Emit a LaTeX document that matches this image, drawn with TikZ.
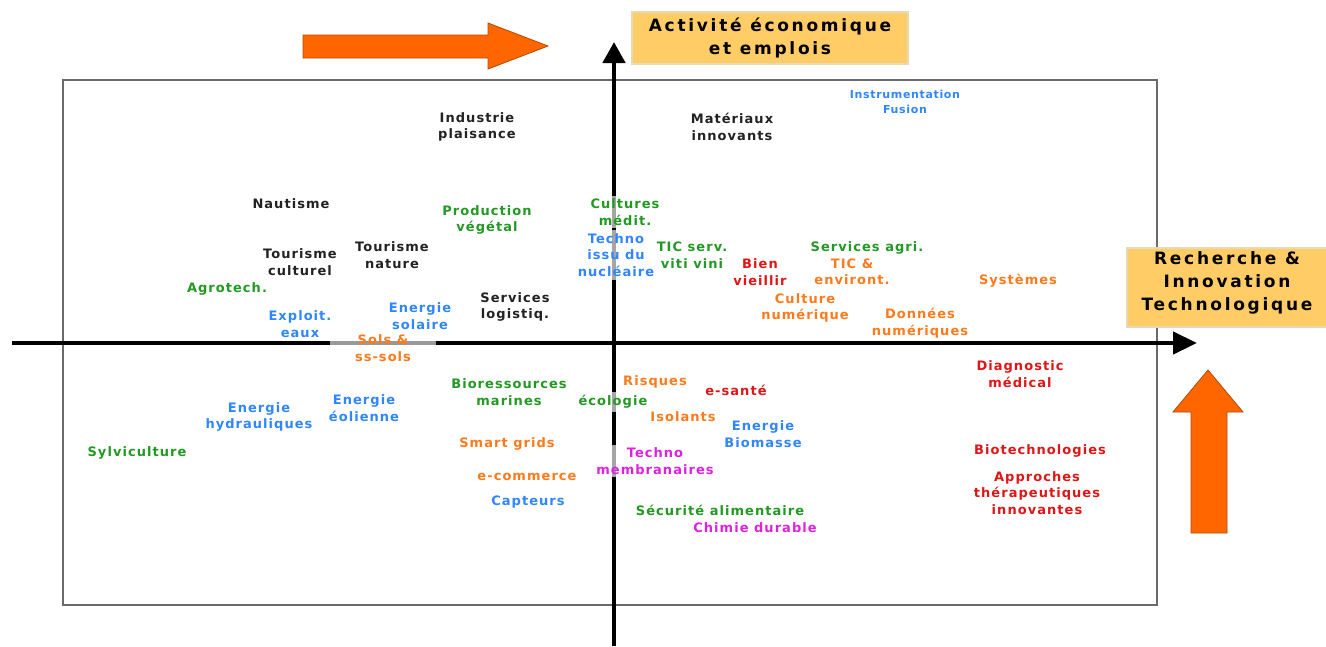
\documentclass[tikz,border=0pt]{standalone}
\usepackage{fontspec}
\usetikzlibrary{arrows.meta}
\newfontfamily\labfont[LetterSpace=8]{DejaVu Sans}
\newfontfamily\smallfont[LetterSpace=6]{DejaVu Sans}
\newfontfamily\headfont[LetterSpace=16]{DejaVu Sans}
\definecolor{cblue}{HTML}{2F86FF}
\definecolor{cgreen}{HTML}{229922}
\definecolor{cred}{HTML}{E01515}
\definecolor{corange}{HTML}{FF7A1A}
\definecolor{cmag}{HTML}{DD22DD}
\definecolor{cblack}{HTML}{222222}
\definecolor{boxfill}{HTML}{FFCC66}
\definecolor{boxline}{HTML}{E8D9B5}
\definecolor{arrfill}{HTML}{FF6600}
\definecolor{arrline}{HTML}{B04A00}
\definecolor{framegray}{HTML}{6A6A6A}
\tikzset{
  lab/.style={font=\labfont\bfseries\fontsize{13}{16.5}\selectfont, align=center, inner sep=1pt},
  lblack/.style={lab, text=cblack},
  lblue/.style={lab, text=cblue},
  lgreen/.style={lab, text=cgreen},
  lred/.style={lab, text=cred},
  lorange/.style={lab, text=corange},
  lmag/.style={lab, text=cmag},
  veil/.style={fill=white, fill opacity=0.65, text opacity=1, inner sep=3pt},
  head/.style={font=\headfont\bfseries\fontsize{17}{23}\selectfont, align=center, text=black},
  hbox/.style={fill=boxfill, draw=boxline, line width=2pt},
  blockarrow/.style={fill=arrfill, draw=arrline, line width=0.8pt},
  axis/.style={line width=4.5pt, black}
}
\begin{document}
\begin{tikzpicture}[x=1pt, y=-1pt]
\useasboundingbox (0,0) rectangle (1326,646);
% frame
\draw[framegray, line width=2pt] (63,80) rectangle (1157,605);
% axes
\coordinate (hx0) at (12,343);
\coordinate (hx1) at (1197,343);
\coordinate (vy0) at (614,646);
\coordinate (vy1) at (614,42);
\draw[axis, -{Triangle[length=24pt,width=22pt]}] (hx0) -- (hx1);
\draw[axis, -{Triangle[length=21pt,width=22pt]}] (vy0) -- (vy1);
% header boxes
\draw[hbox] (632,12) rectangle (908,64);
\node[head] (hact) at (770,38) {Activité économique\\et emplois};
\draw[hbox] (1127,248) rectangle (1330,327);
\node[head] (hrech) at (1227,283) {Recherche \&\\Innovation\\Technologique};
% orange block arrows
\draw[blockarrow] (303,35) -- (488,35) -- (488,23) -- (548,46) -- (488,69) -- (488,58) -- (303,58) -- cycle;
\draw[blockarrow] (1191,533) -- (1191,412) -- (1173,412) -- (1208,370) -- (1243,412) -- (1227,412) -- (1227,533) -- cycle;
% black labels
\node[lblack] (n1) at (477,127) {Industrie\\plaisance};
\node[lblack] (n2) at (732,127) {Matériaux\\innovants};
\node[lblack] (n3) at (291,204) {Nautisme};
\node[lblack] (n4) at (300,262) {Tourisme\\culturel};
\node[lblack] (n5) at (392,255) {Tourisme\\nature};
\node[lblack] (n6) at (515,307) {Services\\logistiq.};
% blue labels
\node[lblue, font=\smallfont\bfseries\fontsize{11}{15}\selectfont] (b1) at (905,102) {Instrumentation\\Fusion};
\node[lblue, veil] (b2) at (616,255) {Techno\\issu du\\nucléaire};
\node[lblue] (b3) at (300,324) {Exploit.\\eaux};
\node[lblue] (b4) at (420,316) {Energie\\solaire};
\node[lblue] (b5) at (259,417) {Energie\\hydrauliques};
\node[lblue] (b6) at (364,408) {Energie\\éolienne};
\node[lblue] (b7) at (763,434) {Energie\\Biomasse};
\node[lblue] (b8) at (528,502) {Capteurs};
% green labels
\node[lgreen] (g1) at (487,220) {Production\\végétal};
\node[lgreen, veil] (g2) at (625,212) {Cultures\\médit.};
\node[lgreen] (g3) at (692,255) {TIC serv.\\viti vini};
\node[lgreen] (g4) at (867,248) {Services agri.};
\node[lgreen] (g5) at (227,289) {Agrotech.};
\node[lgreen] (g6) at (509,392) {Bioressources\\marines};
\node[lgreen, veil] (g7) at (613,402) {écologie};
\node[lgreen] (g8) at (137,453) {Sylviculture};
\node[lgreen] (g9) at (720,510) {Sécurité alimentaire};
% red labels
\node[lred] (r1) at (760,272) {Bien\\vieillir};
\node[lred] (r2) at (736,390) {e-santé};
\node[lred] (r3) at (1020,374) {Diagnostic\\médical};
\node[lred] (r4) at (1040,451) {Biotechnologies};
\node[lred] (r5) at (1037,493) {Approches\\thérapeutiques\\innovantes};
% orange labels
\node[lorange] (o1) at (852,272) {TIC \&\\environt.};
\node[lorange] (o2) at (1018,281) {Systèmes};
\node[lorange] (o3) at (805,308) {Culture\\numérique};
\node[lorange] (o4) at (920,323) {Données\\numériques};
\node[lorange, veil, fill=white, fill opacity=0.6, minimum width=106pt] (o5) at (383,348) {Sols \&\\ss-sols};
\node[lorange] (o6) at (655,382) {Risques};
\node[lorange] (o7) at (683,417) {Isolants};
\node[lorange] (o8) at (507,444) {Smart grids};
\node[lorange] (o9) at (527,477) {e-commerce};
% magenta labels
\node[lmag, veil] (m1) at (655,461) {Techno\\membranaires};
\node[lmag] (m2) at (755,528) {Chimie durable};
\end{tikzpicture}
\end{document}
